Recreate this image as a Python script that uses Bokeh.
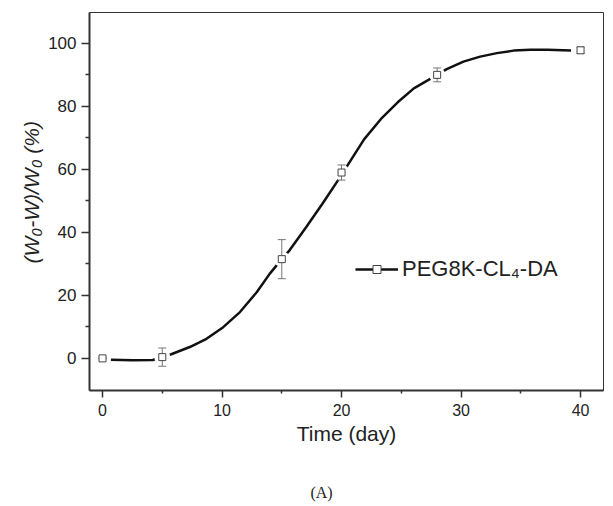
from bokeh.plotting import figure
from bokeh.layouts import column
from bokeh.models import Range1d, FixedTicker, Legend, LegendItem, Title, Label
from bokeh.embed import file_html
from bokeh.resources import INLINE

# ---- data ----
days = [0, 5, 15, 20, 28, 40]
loss = [0.0, 0.4, 31.5, 59.0, 90.0, 97.8]
loss_err = [0.0, 2.9, 6.2, 2.4, 2.2, 1.0]

fit_days = [0.7, 2.5, 4.2, 5.75, 7.3, 8.7, 10.1, 11.5, 12.9, 14.0, 15.0, 15.65,
            17.05, 18.4, 19.7, 21.9, 23.3, 24.7, 26.05, 28.0, 28.8, 30.2, 31.6,
            33.0, 34.4, 35.8, 37.2, 39.2]
fit_loss = [-0.4, -0.6, -0.5, 1.3, 3.6, 6.2, 9.9, 14.7, 21.0, 26.9, 31.5, 34.3,
            41.7, 49.1, 56.5, 69.6, 76.0, 81.3, 85.7, 90.0, 91.8, 94.2, 95.8,
            96.9, 97.7, 98.0, 98.0, 97.7]

x_ticks = [0, 10, 20, 30, 40]
x_minor = [5, 15, 25, 35]
y_ticks = [0, 20, 40, 60, 80, 100]
y_minor = [10, 30, 50, 70, 90]

series_label = "PEG8K-CL\u2084-DA"
x_title = "Time (day)"
y_title = "(W\u2080-W)/W\u2080 (%)"
caption = "(A)"

INK = "#222222"

p = figure(width=605, height=460, output_backend="svg", toolbar_location=None,
           x_range=Range1d(-1.09, 41.92), y_range=Range1d(-10.2, 109.8),
           min_border_left=89, min_border_right=2, min_border_top=12,
           min_border_bottom=70)
p.xgrid.visible = False
p.ygrid.visible = False
p.outline_line_color = "#333333"
p.outline_line_width = 1
p.background_fill_color = "white"
p.border_fill_color = "white"

for ax, ticks, minor in ((p.xaxis[0], x_ticks, x_minor), (p.yaxis[0], y_ticks, y_minor)):
    ax.ticker = FixedTicker(ticks=ticks, minor_ticks=minor)
    ax.axis_line_color = "#333333"
    ax.axis_line_width = 2
    ax.major_tick_line_color = "#333333"
    ax.major_tick_line_width = 1.5
    ax.minor_tick_line_color = "#333333"
    ax.minor_tick_line_width = 1.5
    ax.major_tick_in = 0
    ax.minor_tick_in = 0
    ax.major_label_text_font = "Liberation Sans"
    ax.major_label_text_color = INK

p.xaxis.major_label_text_font_size = "16px"
p.yaxis.major_label_text_font_size = "17px"
p.xaxis.major_tick_out = 7
p.xaxis.minor_tick_out = 3
p.yaxis.major_tick_out = 8
p.yaxis.minor_tick_out = 4
p.xaxis.major_label_standoff = 6
p.yaxis.major_label_standoff = 5

p.xaxis.axis_label = x_title
p.xaxis.axis_label_text_font = "Liberation Sans"
p.xaxis.axis_label_text_font_style = "normal"
p.xaxis.axis_label_text_font_size = "21px"
p.xaxis.axis_label_text_color = INK
p.xaxis.axis_label_standoff = 3

# ---- glyphs ----
line_r = p.line(fit_days, fit_loss, line_width=2.5, line_color="#111111")
p.scatter(days, loss, marker="circle", size=16, fill_color="white", line_color=None)

upper = [v + e for v, e in zip(loss, loss_err)]
lower = [v - e for v, e in zip(loss, loss_err)]
p.segment(x0=days, y0=lower, x1=days, y1=upper, line_color="#777777", line_width=1)
p.scatter(days, upper, marker="dash", size=8, line_color="#777777", line_width=1)
p.scatter(days, lower, marker="dash", size=8, line_color="#777777", line_width=1)

mark_r = p.scatter(days, loss, marker="square", size=7, fill_color="white",
                   line_color="#444444", line_width=1)

legend = Legend(items=[LegendItem(label=series_label, renderers=[line_r, mark_r])],
                location=(266, 108), padding=0, margin=0, spacing=0,
                glyph_width=43, glyph_height=20, label_height=20,
                label_standoff=4, border_line_alpha=0, background_fill_alpha=0,
                label_text_font="Liberation Sans", label_text_font_size="22px",
                label_text_color=INK)
p.add_layout(legend)

# y-axis title as a left-side title (so it can be shifted along the axis)
p.add_layout(Title(text=y_title, align="left", offset=127, standoff=6,
                   text_font="Liberation Sans", text_font_style="italic",
                   text_font_size="21px", text_color=INK), "left")

# ---- caption strip below the chart ----
cap = figure(width=605, height=44, output_backend="svg", toolbar_location=None,
             x_range=Range1d(0, 1), y_range=Range1d(0, 1),
             min_border_left=0, min_border_right=0, min_border_top=0,
             min_border_bottom=0)
cap.xaxis.visible = False
cap.yaxis.visible = False
cap.xgrid.visible = False
cap.ygrid.visible = False
cap.outline_line_color = None
cap.add_layout(Label(x=232, y=12, x_units="screen", y_units="screen", text=caption,
                     text_align="center", text_baseline="middle",
                     text_font="Liberation Serif", text_font_size="16px",
                     text_color=INK))

open("out.html", "w").write(file_html(column(p, cap, spacing=0), INLINE))
